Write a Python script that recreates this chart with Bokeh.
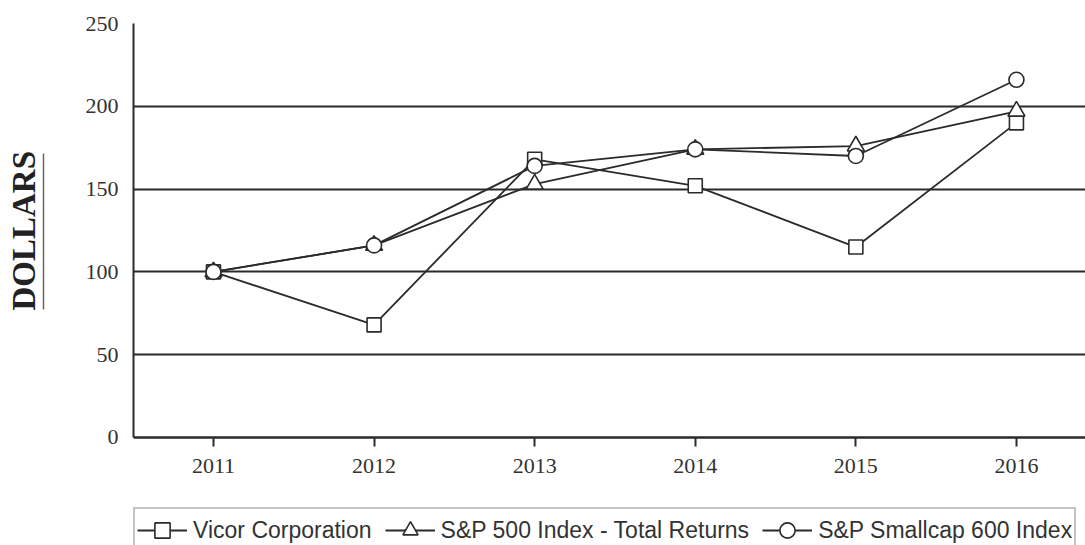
from bokeh.plotting import figure
from bokeh.models import Legend, LegendItem, FixedTicker, Range1d, LinearAxis, Title
from bokeh.embed import file_html
from bokeh.resources import INLINE

years = [2011, 2012, 2013, 2014, 2015, 2016]
vicor = [100, 68, 168, 152, 115, 190]
sp500 = [100, 116, 153, 174, 176, 197]
smallcap = [100, 116, 164, 174, 170, 216]
series_names = ["Vicor Corporation", "S&P 500 Index - Total Returns", "S&P Smallcap 600 Index"]
y_ticks = [0, 50, 100, 150, 200, 250]

INK = "#2b2b2b"

# frame extends below the value axis so the legend can sit inside it
p = figure(frame_width=952, frame_height=522, output_backend="svg", toolbar_location=None,
           x_range=Range1d(2010.502, 2016.430), y_range=Range1d(-65.22, 250),
           min_border_left=133, min_border_right=0, min_border_top=23, min_border_bottom=0,
           x_axis_location=None)
p.outline_line_color = None
p.background_fill_color = "white"

# x axis sits on y = 0 inside the frame
xaxis = LinearAxis(fixed_location=0, ticker=FixedTicker(ticks=years))
p.add_layout(xaxis, "below")
p.yaxis.ticker = FixedTicker(ticks=y_ticks)
p.yaxis.bounds = (0, 250)
for ax in (xaxis, p.yaxis[0]):
    ax.axis_line_color = INK
    ax.axis_line_width = 2
    ax.minor_tick_line_color = None
    ax.major_label_text_font = "Liberation Serif"
    ax.major_label_text_font_size = "22px"
    ax.major_label_text_color = "#333333"
xaxis.major_tick_line_color = INK
xaxis.major_tick_line_width = 2
xaxis.major_tick_out = 9
xaxis.major_tick_in = 0
xaxis.major_label_standoff = 13

p.yaxis.major_tick_line_color = None
p.yaxis.major_tick_out = 0
p.yaxis.major_tick_in = 0
p.yaxis.major_label_standoff = 15
p.yaxis.axis_label = " "
p.yaxis.axis_label_text_font_size = "10px"
p.yaxis.axis_label_standoff = 25

# underline of the "DOLLARS" title (an axis line limited by bounds)
underline_axis = LinearAxis(ticker=FixedTicker(ticks=[]), bounds=(77, 171.5),
                            axis_line_color="#666666", axis_line_width=1.5,
                            major_tick_line_color=None, minor_tick_line_color=None,
                            major_tick_out=0, major_tick_in=0, major_label_standoff=0)
p.add_layout(underline_axis, "left")

title = Title(text="DOLLARS", align="left", offset=235, standoff=3,
              text_font="Liberation Serif", text_font_style="bold",
              text_font_size="33px", text_color="#222222")
p.add_layout(title, "left")

p.xgrid.grid_line_color = None
p.ygrid.grid_line_color = INK
p.ygrid.grid_line_width = 2
p.ygrid.ticker = FixedTicker(ticks=y_ticks)

renderers = []
for vals, marker, msize in ((vicor, "square", 14), (sp500, "triangle", 17), (smallcap, "circle", 15)):
    l = p.line(years, vals, line_color=INK, line_width=1.8)
    s = p.scatter(years, vals, marker=marker, size=msize, fill_color="white",
                  line_color=INK, line_width=1.6)
    renderers.append([l, s])

items = [LegendItem(label=n, renderers=r) for n, r in zip(series_names, renderers)]
legend = Legend(items=items, orientation="horizontal", location=(0, -8))
legend.label_text_font = "Liberation Sans"
legend.label_text_font_size = "23px"
legend.label_text_color = "#333333"
legend.glyph_width = 50
legend.glyph_height = 38
legend.label_standoff = 6
legend.spacing = 13
legend.padding = 2
legend.margin = 0
legend.border_line_color = "#8a8a8a"
legend.border_line_width = 2
legend.background_fill_alpha = 1
p.add_layout(legend, "center")

open("out.html", "w").write(file_html(p, INLINE))
